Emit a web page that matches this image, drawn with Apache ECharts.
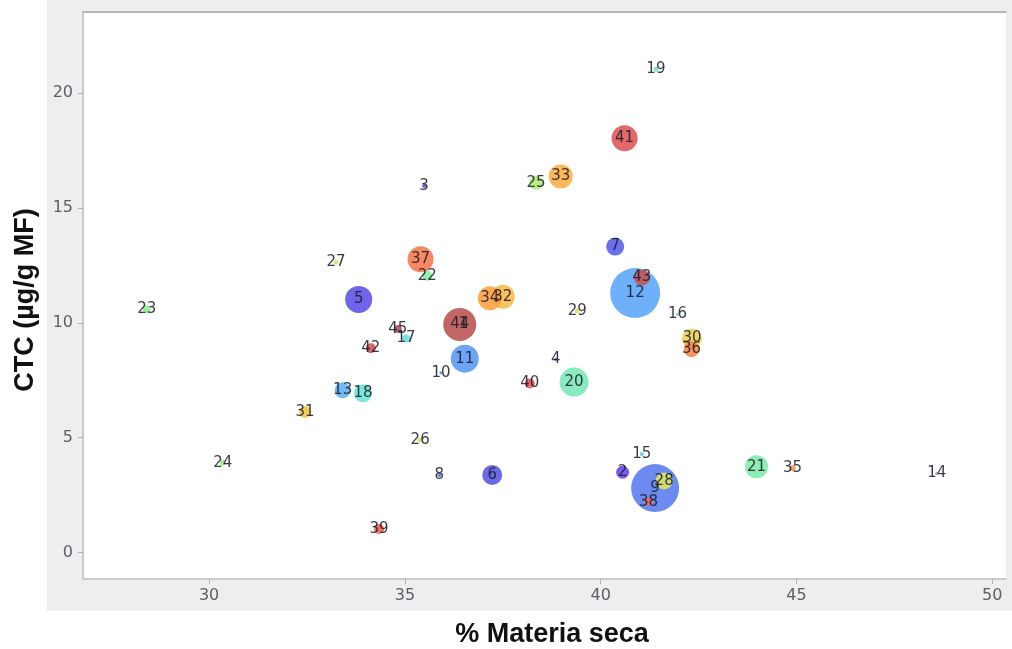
<!DOCTYPE html>
<html>
<head>
<meta charset="utf-8">
<script src="https://cdn.jsdelivr.net/npm/echarts@6/dist/echarts.min.js"></script>
<style>
  html, body { margin: 0; padding: 0; background: #ffffff; }
  #chart { width: 1012px; height: 649px; }
</style>
</head>
<body>
<div id="chart"></div>
<script>
// Muestras identificadas por número
const muestras = [1, 2, 3, 4, 5, 6, 7, 8, 9, 10, 11, 12, 13, 14, 15, 16, 17, 18, 19, 20, 21, 22,
  23, 24, 25, 26, 27, 28, 29, 30, 31, 32, 33, 34, 35, 36, 37, 38, 39, 40, 41, 42, 43, 44, 45];

// % materia seca (eje X)
const materiaSeca = [36.50, 40.56, 35.49, 38.85, 33.82, 37.23, 40.37, 35.88, 41.39, 35.92,
  36.53, 40.88, 33.41, 48.58, 41.05, 41.96, 35.03, 33.93, 41.41, 39.32,
  43.98, 35.57, 28.41, 30.35, 38.35, 35.39, 33.24, 41.62, 39.40, 42.33,
  32.45, 37.50, 38.98, 37.17, 44.90, 42.32, 35.40, 41.22, 34.34, 38.19,
  40.61, 34.13, 41.05, 36.40, 34.82];

// CTC (µg/g MF) (eje Y)
const ctc = [9.95, 3.49, 15.96, 8.41, 11.02, 3.37, 13.32, 3.37, 2.80, 7.83,
  8.44, 11.30, 7.06, 3.44, 4.28, 10.37, 9.32, 6.93, 21.05, 7.42,
  3.73, 12.05, 10.59, 3.90, 16.10, 4.89, 12.64, 3.11, 10.51, 9.32,
  6.11, 11.14, 16.37, 11.07, 3.66, 8.85, 12.77, 2.20, 1.02, 7.36,
  18.04, 8.89, 11.97, 9.93, 9.73];

// Tercera variable, representada por el tamaño de la burbuja
const magnitud = [2, 6.5, 2, 1.5, 13.5, 10, 9, 2, 24, 1.5,
  14, 25, 8, 1.5, 2, 1.5, 4, 9, 2.5, 14.5,
  11.5, 5, 4, 3, 7, 2.5, 2.5, 8.5, 2.5, 10,
  6, 12, 12, 12, 3, 8, 13, 4, 5, 5,
  13, 5, 8, 16.5, 4];

// Marcas de los ejes
const ticksX = [30, 35, 40, 45, 50];
const ticksY = [0, 5, 10, 15, 20];

const puntos = muestras.map((id, i) => [materiaSeca[i], ctc[i], magnitud[i], id]);

const chart = echarts.init(document.getElementById('chart'), null, { renderer: 'canvas' });

const ejeColor = '#c9cbcd';
const etiquetaEje = { color: '#5c6064', fontSize: 16, fontFamily: 'DejaVu Sans' };

chart.setOption({
  backgroundColor: '#ffffff',
  animation: false,
  graphic: [
    {
      type: 'rect', z: -10, silent: true,
      shape: { x: 47, y: 0, width: 965, height: 611 },
      style: { fill: '#eceef0' }
    },
    {
      type: 'text', silent: true,
      x: 26, y: 300, rotation: Math.PI / 2,
      style: {
        text: 'CTC (µg/g MF)', fill: '#111', font: 'bold 27px "Liberation Sans", Arial, sans-serif',
        align: 'center', verticalAlign: 'middle'
      }
    },
    {
      type: 'text', silent: true,
      x: 552, y: 635,
      style: {
        text: '% Materia seca', fill: '#111', font: 'bold 27px "Liberation Sans", Arial, sans-serif',
        align: 'center', verticalAlign: 'middle'
      }
    }
  ],
  grid: {
    left: 83, right: 6, top: 12, bottom: 70,
    show: true, backgroundColor: '#ffffff', borderWidth: 0
  },
  visualMap: {
    show: false,
    type: 'continuous',
    dimension: 3,
    min: 1, max: 45,
    inRange: {
      color: ['#6a3de8', '#5656e6', '#5aa5f8', '#66e3dc', '#8eee88', '#e6e65a', '#ffa040', '#ee5555', '#b05050']
    }
  },
  xAxis: [
    {
      type: 'value', min: 26.78, max: 50.35,
      splitLine: { show: false },
      axisLine: { show: true, onZero: false, lineStyle: { color: ejeColor, width: 2 } },
      axisTick: { show: true, length: 5, customValues: ticksX, lineStyle: { color: '#b0b3b6' } },
      axisLabel: Object.assign({ margin: 9, customValues: ticksX }, etiquetaEje)
    },
    {
      type: 'value', position: 'top', min: 26.78, max: 50.35,
      splitLine: { show: false },
      axisLine: { show: true, onZero: false, lineStyle: { color: '#b4b6b8', width: 2 } },
      axisTick: { show: false }, axisLabel: { show: false }
    }
  ],
  yAxis: {
    type: 'value', min: -1.16, max: 23.54,
    splitLine: { show: false },
    axisLine: { show: true, onZero: false, lineStyle: { color: ejeColor, width: 2 } },
    axisTick: { show: true, length: 5, customValues: ticksY, lineStyle: { color: '#b0b3b6' } },
    axisLabel: Object.assign({ margin: 10, customValues: ticksY }, etiquetaEje)
  },
  series: [{
    type: 'scatter',
    data: puntos,
    symbolSize: (v) => v[2] * 2,
    itemStyle: { opacity: 0.88 },
    label: {
      show: true,
      position: 'inside',
      formatter: (p) => String(p.value[3]),
      color: '#1d1d2a',
      fontSize: 15,
      fontFamily: 'DejaVu Sans'
    },
    emphasis: { disabled: true }
  }]
});
</script>
</body>
</html>
